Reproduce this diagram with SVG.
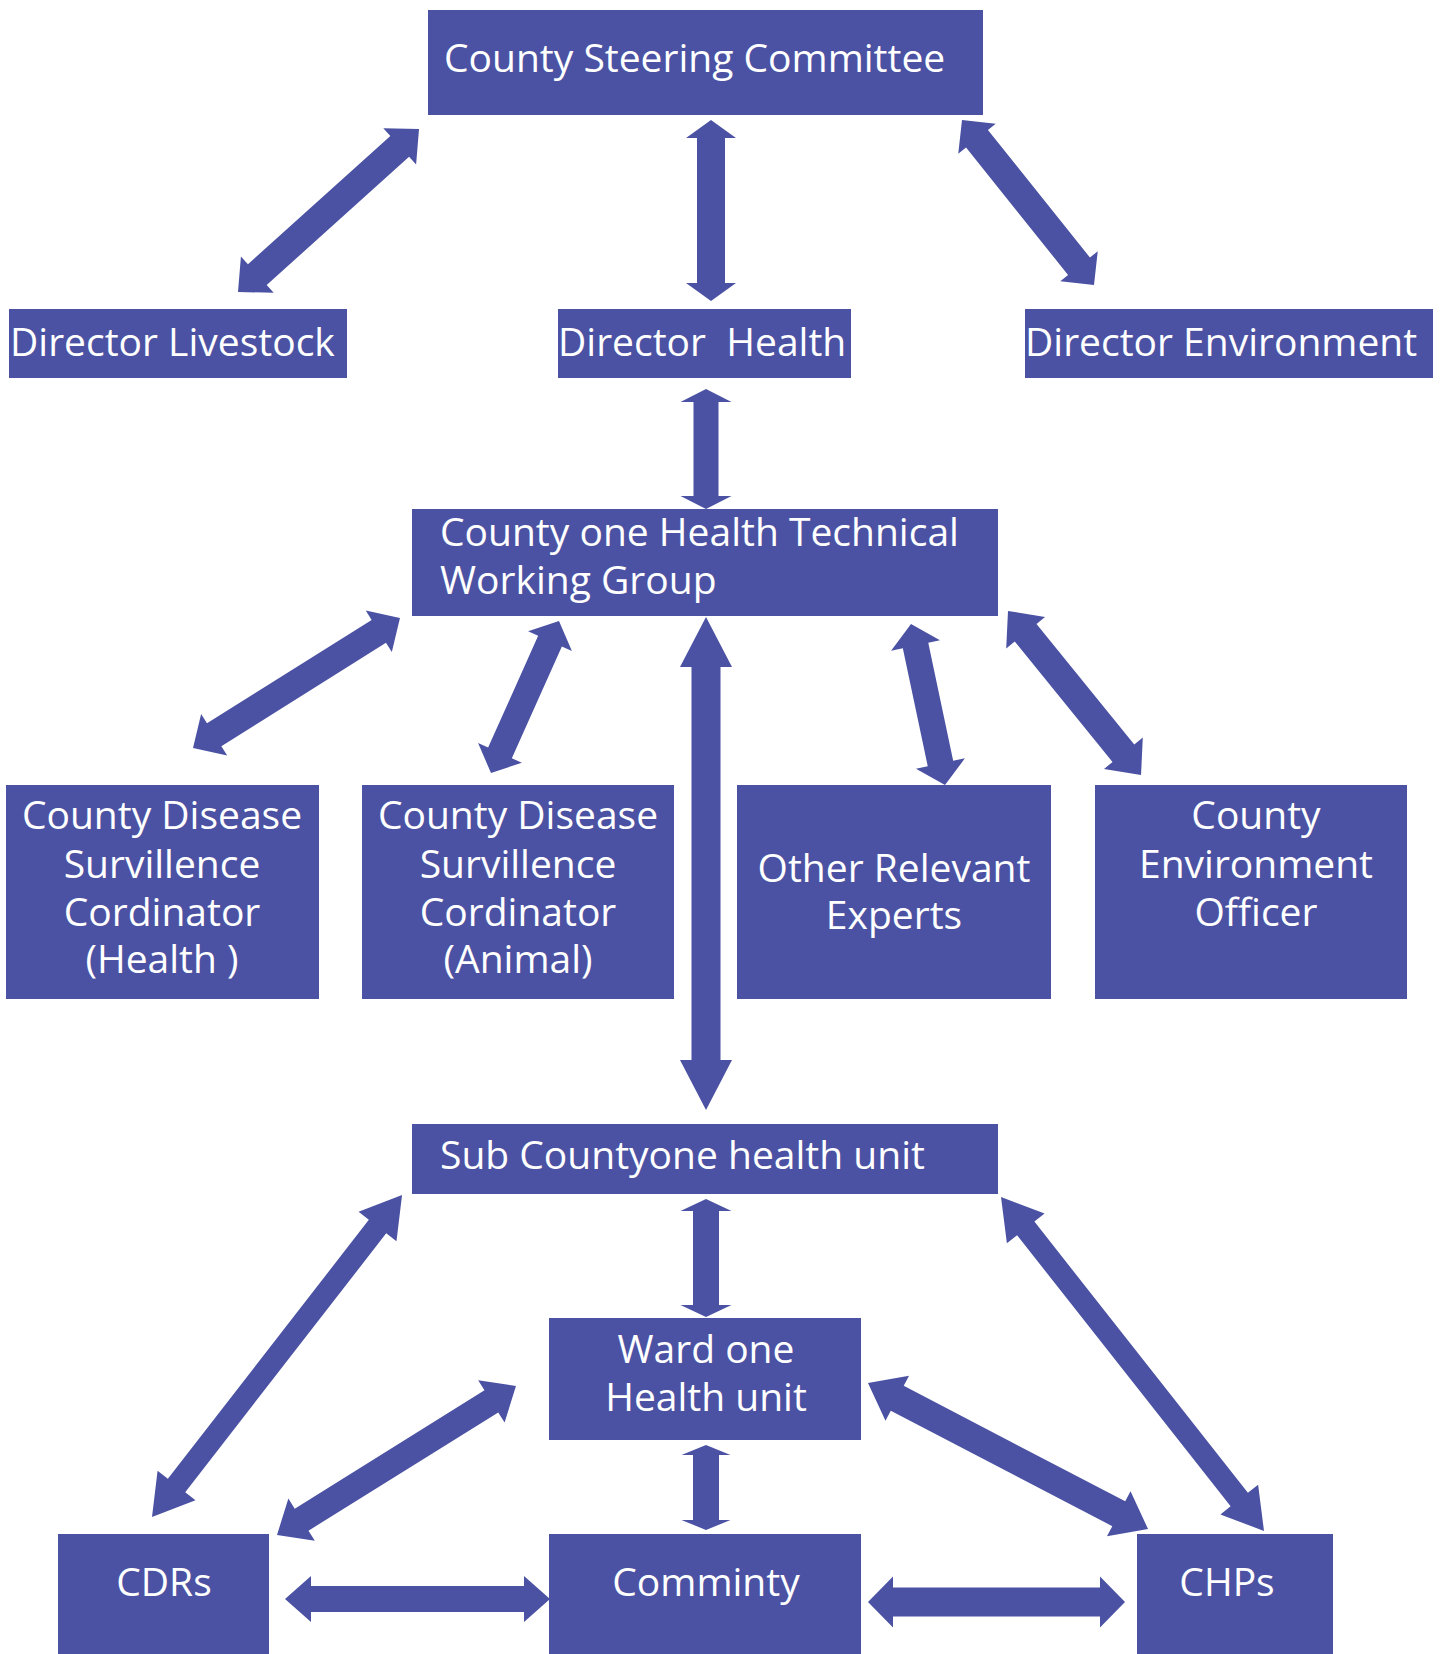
<svg xmlns="http://www.w3.org/2000/svg" width="1440" height="1654" viewBox="0 0 1440 1654">
<style>
.box{fill:#4b52a3}
.arr{fill:#4b52a3}
.t{fill:#ffffff;font-family:"Open Sans","Noto Sans","DejaVu Sans",sans-serif;font-size:39px}
.c{text-anchor:middle}
</style>
<rect x="0" y="0" width="1440" height="1654" fill="#ffffff"/>
<g id="connectors">
<path class="arr" transform="translate(238,292) rotate(-42.0)" d="M0,0 L26,-24.5 L26,-14 L217.6,-14 L217.6,-24.5 L243.6,0 L217.6,24.5 L217.6,14 L26,14 L26,24.5 Z"/>
<path class="arr" d="M711,120 L736,138 L725,138 L725,283 L736,283 L711,301 L686,283 L697,283 L697,138 L686,138 Z"/>
<path class="arr" transform="translate(962,120) rotate(51.34)" d="M0,0 L24,-24 L24,-14 L187.3,-14 L187.3,-24 L211.3,0 L187.3,24 L187.3,14 L24,14 L24,24 Z"/>
<path class="arr" d="M706,389 L731.5,402 L718.5,402 L718.5,496 L731.5,496 L706,509 L680.5,496 L693.5,496 L693.5,402 L680.5,402 Z"/>
<path class="arr" transform="translate(193,748) rotate(-32.13)" d="M0,0 L25,-24.5 L25,-13.5 L219.4,-13.5 L219.4,-24.5 L244.4,0 L219.4,24.5 L219.4,13.5 L25,13.5 L25,24.5 Z"/>
<path class="arr" transform="translate(491,773) rotate(-65.9)" d="M0,0 L22,-24 L22,-13 L144.5,-13 L144.5,-24 L166.5,0 L144.5,24 L144.5,13 L22,13 L22,24 Z"/>
<path class="arr" d="M706,617 L732,667 L720.5,667 L720.5,1060 L732,1060 L706,1110 L680,1060 L691.5,1060 L691.5,667 L680,667 Z"/>
<path class="arr" transform="translate(911,624) rotate(78.08)" d="M0,0 L22,-25 L22,-13 L142.6,-13 L142.6,-25 L164.6,0 L142.6,25 L142.6,13 L22,13 L22,25 Z"/>
<path class="arr" transform="translate(1008,611) rotate(50.96)" d="M0,0 L28,-25 L28,-14 L183.2,-14 L183.2,-25 L211.2,0 L183.2,25 L183.2,14 L28,14 L28,25 Z"/>
<path class="arr" d="M706,1199 L731.5,1211 L719,1211 L719,1305 L731.5,1305 L706,1317 L680.5,1305 L693,1305 L693,1211 L680.5,1211 Z"/>
<path class="arr" transform="translate(152,1517) rotate(-52.17)" d="M0,0 L40,-24 L40,-11 L367.7,-11 L367.7,-24 L407.7,0 L367.7,24 L367.7,11 L40,11 L40,24 Z"/>
<path class="arr" transform="translate(1001,1197) rotate(51.78)" d="M0,0 L40,-24 L40,-11 L385.1,-11 L385.1,-24 L425.1,0 L385.1,24 L385.1,11 L40,11 L40,24 Z"/>
<path class="arr" transform="translate(277,1535) rotate(-31.94)" d="M0,0 L29,-25 L29,-13 L252.6,-13 L252.6,-25 L281.6,0 L252.6,25 L252.6,13 L29,13 L29,25 Z"/>
<path class="arr" transform="translate(868,1383) rotate(27.54)" d="M0,0 L33,-25.5 L33,-14 L282.8,-14 L282.8,-25.5 L315.8,0 L282.8,25.5 L282.8,14 L33,14 L33,25.5 Z"/>
<path class="arr" d="M706,1445 L730.5,1455 L719,1455 L719,1520 L730.5,1520 L706,1530 L681.5,1520 L693,1520 L693,1455 L681.5,1455 Z"/>
<path class="arr" d="M285,1599 L311,1576 L311,1586 L524,1586 L524,1576 L550,1599 L524,1622 L524,1612 L311,1612 L311,1622 Z"/>
<path class="arr" d="M868,1602 L893,1576.5 L893,1587.5 L1100,1587.5 L1100,1576.5 L1125,1602 L1100,1627.5 L1100,1616.5 L893,1616.5 L893,1627.5 Z"/>
</g>
<g id="csc"><rect class="box" x="428" y="10" width="555" height="105"/><text class="t" x="444" y="72">County Steering Committee</text></g>
<g id="dir-livestock"><rect class="box" x="9" y="309" width="338" height="69"/><text class="t" x="10" y="356">Director Livestock</text></g>
<g id="dir-health"><rect class="box" x="558" y="309" width="293" height="69"/><text class="t" x="558" y="356" xml:space="preserve">Director  Health</text></g>
<g id="dir-environment"><rect class="box" x="1025" y="309" width="408" height="69"/><text class="t" x="1025" y="356">Director Environment</text></g>
<g id="twg"><rect class="box" x="412" y="509" width="586" height="107"/><text class="t" x="440" y="546">County one Health Technical</text><text class="t" x="440" y="594">Working Group</text></g>
<g id="cdsc-health"><rect class="box" x="6" y="785" width="313" height="214"/><text class="t c" x="162" y="829">County Disease</text><text class="t c" x="162" y="878">Survillence</text><text class="t c" x="162" y="926">Cordinator</text><text class="t c" x="162" y="973">(Health )</text></g>
<g id="cdsc-animal"><rect class="box" x="362" y="785" width="312" height="214"/><text class="t c" x="518" y="829">County Disease</text><text class="t c" x="518" y="878">Survillence</text><text class="t c" x="518" y="926">Cordinator</text><text class="t c" x="518" y="973">(Animal)</text></g>
<g id="experts"><rect class="box" x="737" y="785" width="314" height="214"/><text class="t c" x="894" y="882">Other Relevant</text><text class="t c" x="894" y="929">Experts</text></g>
<g id="env-officer"><rect class="box" x="1095" y="785" width="312" height="214"/><text class="t c" x="1256" y="829">County</text><text class="t c" x="1256" y="878">Environment</text><text class="t c" x="1256" y="926">Officer</text></g>
<g id="subcounty"><rect class="box" x="412" y="1124" width="586" height="70"/><text class="t" x="440" y="1169">Sub Countyone health unit</text></g>
<g id="ward"><rect class="box" x="549" y="1318" width="312" height="122"/><text class="t c" x="706" y="1363">Ward one</text><text class="t c" x="706" y="1411">Health unit</text></g>
<g id="cdrs"><rect class="box" x="58" y="1534" width="211" height="120"/><text class="t c" x="164" y="1596">CDRs</text></g>
<g id="comminty"><rect class="box" x="549" y="1534" width="312" height="120"/><text class="t c" x="706" y="1596">Comminty</text></g>
<g id="chps"><rect class="box" x="1137" y="1534" width="196" height="120"/><text class="t c" x="1227" y="1596">CHPs</text></g>
</svg>
